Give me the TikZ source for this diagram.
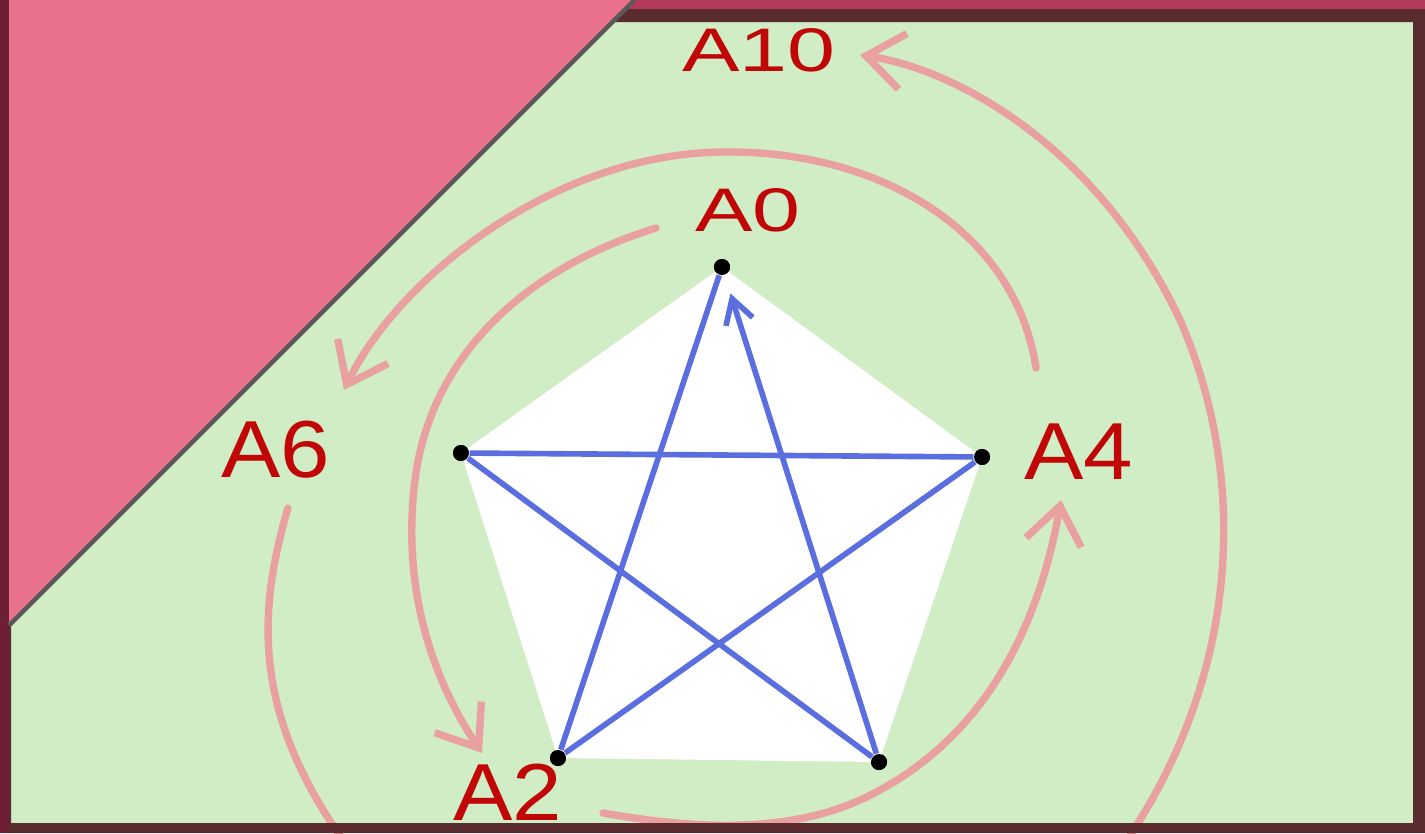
\documentclass[tikz,border=0pt]{standalone}
\usepackage{fontspec}
\usetikzlibrary{arrows.meta}
\newfontfamily\handfont[FakeStretch=1.1]{Liberation Sans}
\newfontfamily\handwide[FakeStretch=1.4]{Liberation Sans}
\definecolor{framebrown}{HTML}{5A2B2F}
\definecolor{topband}{HTML}{B63A5C}
\definecolor{sideband}{HTML}{6E1F33}
\definecolor{wallpink}{HTML}{E9718B}
\definecolor{boardgreen}{HTML}{D1EDC6}
\definecolor{labred}{HTML}{C00606}
\definecolor{flowpink}{HTML}{E8A0A0}
\definecolor{starblue}{HTML}{5A6EE0}
\begin{document}
\begin{tikzpicture}[x=0.01cm, y=-0.01cm,
    dot/.style={circle, fill=black, inner sep=0pt, minimum size=0.16cm},
    lbl/.style={text=labred, inner sep=0pt, font=\handfont\fontsize{23}{26}\selectfont},
    lblsmall/.style={text=labred, inner sep=0pt, font=\handwide\fontsize{17.5}{20}\selectfont},
    starline/.style={draw=starblue, line width=1.6pt},
    flow/.style={draw=flowpink, line width=2.1pt, line cap=round},
    flowtip/.style={-{Straight Barb[length=3.7mm, width=5.6mm]}}]
  \useasboundingbox (0,0) rectangle (1425,833);
  % board
  \fill[boardgreen] (0,0) rectangle (1425,833);
  % star points
  \node[dot] (v0) at (722,267) {};
  \node[dot] (v4) at (982,457) {};
  \node[dot] (v8) at (879,762) {};
  \node[dot] (v2) at (558,758) {};
  \node[dot] (v6) at (461,453) {};
  \fill[white] (v0.center) -- (v4.center) -- (v8.center) -- (v2.center) -- (v6.center) -- cycle;
  % labels
  \node[lblsmall] (l10) at (759,50) {A10};
  \node[lblsmall] (l0) at (748,210) {A0};
  \node[lbl] (l6) at (276,450) {A6};
  \node[lbl] (l4) at (1079,452) {A4};
  \node[lbl] (l2) at (508,792) {A2};
  \coordinate (d6) at (350,850);
  \coordinate (d10) at (1120,850);
  % pink arrows
  \draw[flow, flowtip] ([shift={(-43,-84)}]l4.center) .. controls (1015,230) and (880,152) .. (730,152)
    .. controls (560,150) and (400,275) .. ([shift={(68,-60)}]l6.center);
  \draw[flow, flowtip] ([shift={(-92,18)}]l0.center) .. controls (520,270) and (430,360) .. (415,480)
    .. controls (400,600) and (440,690) .. ([shift={(-26,-39)}]l2.center);
  \draw[flow, flowtip] ([shift={(95,21)}]l2.center) .. controls (700,830) and (800,835) .. (880,790)
    .. controls (990,730) and (1040,620) .. ([shift={(-18,48)}]l4.center);
  \draw[flow] ([shift={(12,58)}]l6.center) .. controls (255,620) and (255,720) .. (d6);
  \draw[flow, flowtip] (d10) .. controls (1240,680) and (1250,480) .. (1180,320)
    .. controls (1100,150) and (960,70) .. ([shift={(101,5)}]l10.center);
  % pentagram
  \draw[starline] (v6) -- (v4);
  \draw[starline] (v6) -- (v8);
  \draw[starline] (v0) -- (v2);
  \draw[starline] (v2) -- (v4);
  \draw[starline, -{Straight Barb[length=2.4mm, width=2.8mm]}, shorten >=0.19cm] (v8) -- (v0);
  \node[dot] at (v0) {};
  \node[dot] at (v4) {};
  \node[dot] at (v8) {};
  \node[dot] at (v2) {};
  \node[dot] at (v6) {};
  % frame
  \fill[framebrown, even odd rule] (0,0) rectangle (1425,833) (11,22) rectangle (1413,823);
  \fill[topband] (0,0) rectangle (1425,9);
  \fill[sideband] (0,0) rectangle (9,833);
  \draw[black!65, line width=1.5pt] (634,0) -- (9,625);
  \fill[wallpink] (9,0) -- (631,0) -- (9,622) -- cycle;
\end{tikzpicture}
\end{document}
